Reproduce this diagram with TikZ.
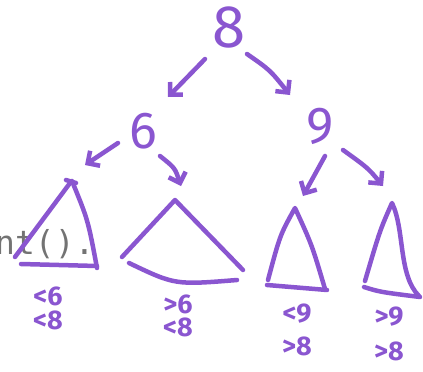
\documentclass[tikz,border=0pt]{standalone}
\usepackage{fontspec}
\setmainfont{Fira Sans}
\setmonofont{DejaVu Sans Mono}
\usetikzlibrary{arrows.meta}
\definecolor{pen}{RGB}{138,86,208}
\begin{document}
\begin{tikzpicture}[x=1pt, y=-1pt, >={Straight Barb[length=9pt,width=18pt]},
  ink/.style={draw=pen, line width=4.5pt, line cap=round, line join=round},
  key/.style={text=pen, inner sep=0pt, font=\fontsize{60}{60}\selectfont},
  sub/.style={text=pen, inner sep=0pt, font=\fontsize{52}{52}\selectfont},
  bound/.style={text=pen, inner sep=0pt, align=center, font=\bfseries\fontsize{27}{24}\selectfont}]
  \useasboundingbox (0,0) rectangle (423,372);
  % code text behind the sketch
  \node[anchor=west, text=black!55, inner sep=0pt, font=\ttfamily\fontsize{33}{33}\selectfont] (code) at (-5,244) {nt().};
  % keys
  \node[key] (eight) at (229,27) {8};
  \node[sub] (six) at (143,131) {6};
  \node[sub] (nine) at (320,126) {9};
  % arrow tips
  \coordinate (e6) at (168,97);
  \coordinate (e9) at (290,95);
  \coordinate (t1) at (85,165);
  \coordinate (t2) at (181,186);
  \coordinate (t3) at (303,196);
  \coordinate (t4) at (383,186);
  \draw[ink, ->] ([shift={(-24,32)}]eight.center) -- (e6);
  \draw[ink, ->] ([shift={(18,27)}]eight.center) .. controls (270,70) .. (e9);
  \draw[ink, ->] ([shift={(-25,12)}]six.center) -- (t1);
  \draw[ink, ->] ([shift={(17,25)}]six.center) .. controls (175,168) .. (t2);
  \draw[ink, ->] ([shift={(5,30)}]nine.center) -- (t3);
  \draw[ink, ->] ([shift={(23,24)}]nine.center) .. controls (368,168) .. (t4);
  % subtrees
  \draw[ink] (66,180) -- (76,183);
  \draw[ink] (70,183) -- (15,257);
  \draw[ink] (72,181) .. controls (88,220) .. (97,268);
  \draw[ink] (21,264) -- (97,266);
  \draw[ink] (122,257) -- (175,200) -- (243,270);
  \draw[ink] (129,263) .. controls (175,285) .. (237,280);
  \draw[ink] (268,280) .. controls (280,235) .. (295,208) .. controls (312,245) .. (325,289);
  \draw[ink] (267,285) -- (327,290);
  \draw[ink] (365,281) .. controls (380,230) .. (392,203) .. controls (405,230) and (398,275) .. (419,296);
  \draw[ink] (364,287) .. controls (380,292) .. (420,297);
  % bounds
  \node[bound] (b1) at (48,308) {<6\\<8};
  \node[bound] (b2) at (178,316) {>6\\[-1pt]<8};
  \node[bound] (b3) at (297,330) {<9\\[9pt]>8};
  \node[bound] (b4) at (389,334) {>9\\[11pt]>8};
\end{tikzpicture}
\end{document}
